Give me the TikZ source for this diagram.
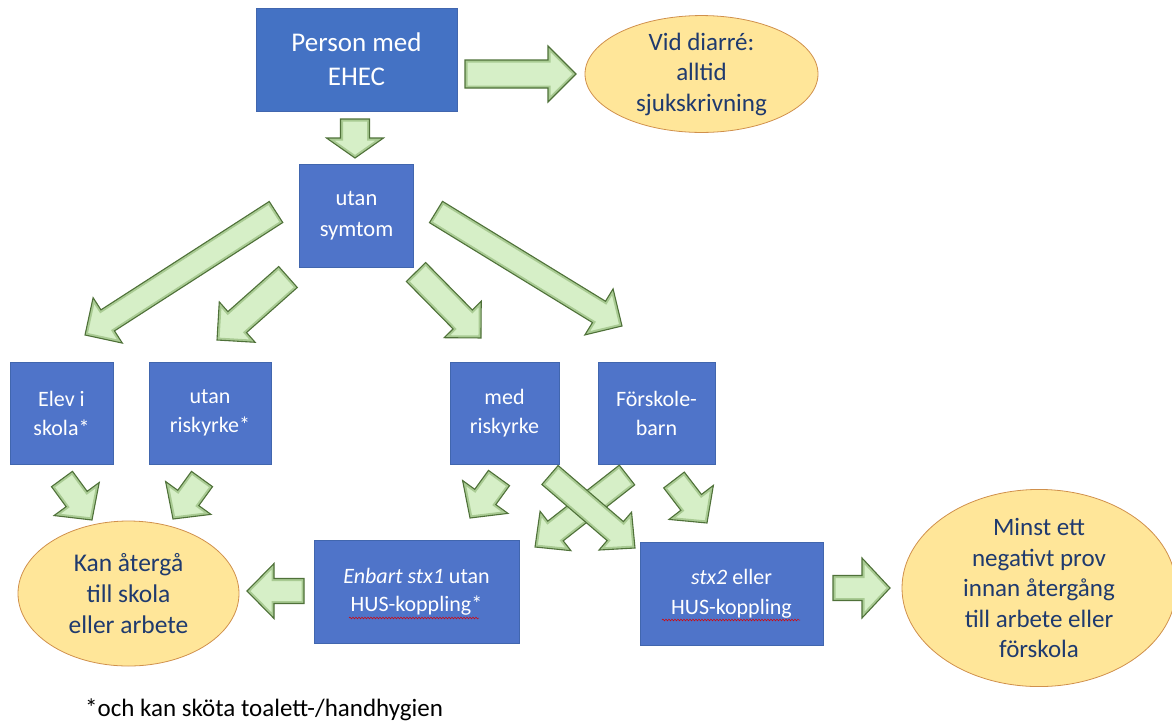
\documentclass[tikz,border=0pt]{standalone}
\usepackage{fontspec}
\setmainfont{Carlito}
\usetikzlibrary{shapes.geometric,decorations.pathmorphing}
\definecolor{boxA}{HTML}{4472C4}
\definecolor{boxB}{HTML}{4F74C9}
\definecolor{boxline}{HTML}{4166AE}
\definecolor{ellfill}{HTML}{FFE699}
\definecolor{ellline}{HTML}{D0904C}
\definecolor{elltext}{HTML}{1F3A6E}
\definecolor{arrfill}{HTML}{D6EFC7}
\definecolor{arrbevel}{HTML}{A9CB93}
\definecolor{arrline}{HTML}{4F7139}
\newcommand\fsz[2]{\fontsize{#1}{#2}\selectfont}
\newcommand\blockarrow[7]{%
  \pgfmathsetmacro\bax{#3-#1}%
  \pgfmathsetmacro\bay{#4-#2}%
  \pgfmathsetmacro\balen{veclen(\bax,\bay)}%
  \pgfmathsetmacro\barot{-atan2(\bay,\bax)}%
  \pgfmathsetmacro\baneck{\balen-#7}%
  \def\bapath{(0,-#5) -- (\baneck,-#5) -- (\baneck,-#6) -- (\balen,0) -- (\baneck,#6) -- (\baneck,#5) -- (0,#5) -- cycle}%
  \begin{scope}[shift={(#1,#2)},rotate=\barot]
    \fill[arrfill] \bapath;
    \begin{scope}
      \clip \bapath;
      \draw[arrbevel, line width=5pt, line join=miter] \bapath;
    \end{scope}
    \draw[blockarr] \bapath;
  \end{scope}}
\tikzset{
  bluebox/.style={rectangle, fill=boxB, draw=boxline, line width=0.6pt, text=white, align=center, inner sep=0pt},
  ellnode/.style={ellipse, fill=ellfill, draw=ellline, line width=0.8pt, text=elltext, align=center, inner sep=0pt},
  blockarr/.style={draw=arrline, line width=1.1pt, line join=miter},
  squiggle/.style={draw=red!85!black, line width=0.5pt, decorate, decoration={snake, amplitude=0.9pt, segment length=3pt}}
}
\begin{document}
\begin{tikzpicture}[x=1pt,y=-1pt]
\useasboundingbox (0,0) rectangle (1172,724);

% boxes
\node[bluebox, fill=boxA, minimum width=201pt, minimum height=103pt, font=\fsz{27}{34}] (person) at (356.5,59.5) {Person med\\EHEC};
\node[bluebox, minimum width=114pt, minimum height=103pt, font=\fsz{22.5}{31}] (utan) at (356.5,216) {utan\\symtom};
\node[bluebox, minimum width=103pt, minimum height=102pt, font=\fsz{22}{29}] (elev) at (61.5,413) {Elev i\\skola*};
\node[bluebox, minimum width=122pt, minimum height=102pt, font=\fsz{22}{29}] (utanrisk) at (210,413) {utan\\riskyrke*};
\node[bluebox, minimum width=109pt, minimum height=102pt, font=\fsz{22}{29}] (medrisk) at (504.5,413) {med\\riskyrke};
\node[bluebox, minimum width=117pt, minimum height=102pt, font=\fsz{22}{29}] (forskole) at (656.5,413) {Förskole-\\barn};
\node[bluebox, minimum width=205pt, minimum height=103pt, font=\fsz{22}{28}] (enbart) at (416.5,591.5) {\textit{Enbart stx1} utan\\HUS-koppling*};
\node[bluebox, minimum width=183pt, minimum height=103pt, font=\fsz{22}{30}] (stx) at (731.5,593.5) {\textit{stx2} eller\\HUS-koppling};

% ellipses
\node[ellnode, minimum width=233pt, minimum height=114pt, font=\fsz{25}{30.5}] (vid) at (701.5,74) {Vid diarré:\\alltid\\sjukskrivning};
\node[ellnode, minimum width=221pt, minimum height=145pt, font=\fsz{25.5}{31}] (kan) at (128.5,593.5) {Kan återgå\\till skola\\eller arbete};
\node[ellnode, minimum width=274pt, minimum height=160pt, font=\fsz{25}{30.5}] (minst) at (1039,588) {Minst ett\\negativt prov\\innan återgång\\till arbete eller\\förskola};

% spell-check underlines
\draw[squiggle] (349,618) -- (479,618);
\draw[squiggle] (662,620) -- (800,620);

% footnote
\node[anchor=base west, inner sep=0pt, font=\fsz{25}{30}] (note) at (85,716) {*och kan sköta toalett-/handhygien};

% block arrows: tail x,y ; tip x,y ; shaft half ; head half ; head length
\blockarrow{465}{74}{576}{74}{14}{28}{28}
\blockarrow{355}{119}{355}{158}{14.5}{28.5}{20}
\blockarrow{276}{212}{85}{335}{12.5}{27}{27}
\blockarrow{288}{277}{217}{340}{14}{27}{27}
\blockarrow{416}{272}{481}{338}{13.5}{26}{26}
\blockarrow{436}{212}{622}{326}{12.5}{27}{27}
\blockarrow{62}{479}{92}{520}{13}{28}{26}
\blockarrow{202}{479}{173}{519}{13}{28}{26}
\blockarrow{499}{478}{470}{518}{13}{28}{26}
\blockarrow{674}{480}{707}{523}{13}{28}{26}
\blockarrow{627}{475}{535}{547}{12.5}{25}{26}
\blockarrow{550}{475}{635}{548}{12.5}{25}{26}
\blockarrow{304}{591}{247}{591}{12.5}{27.5}{27}
\blockarrow{833}{588}{890}{588}{12.5}{30}{28}
\end{tikzpicture}
\end{document}
